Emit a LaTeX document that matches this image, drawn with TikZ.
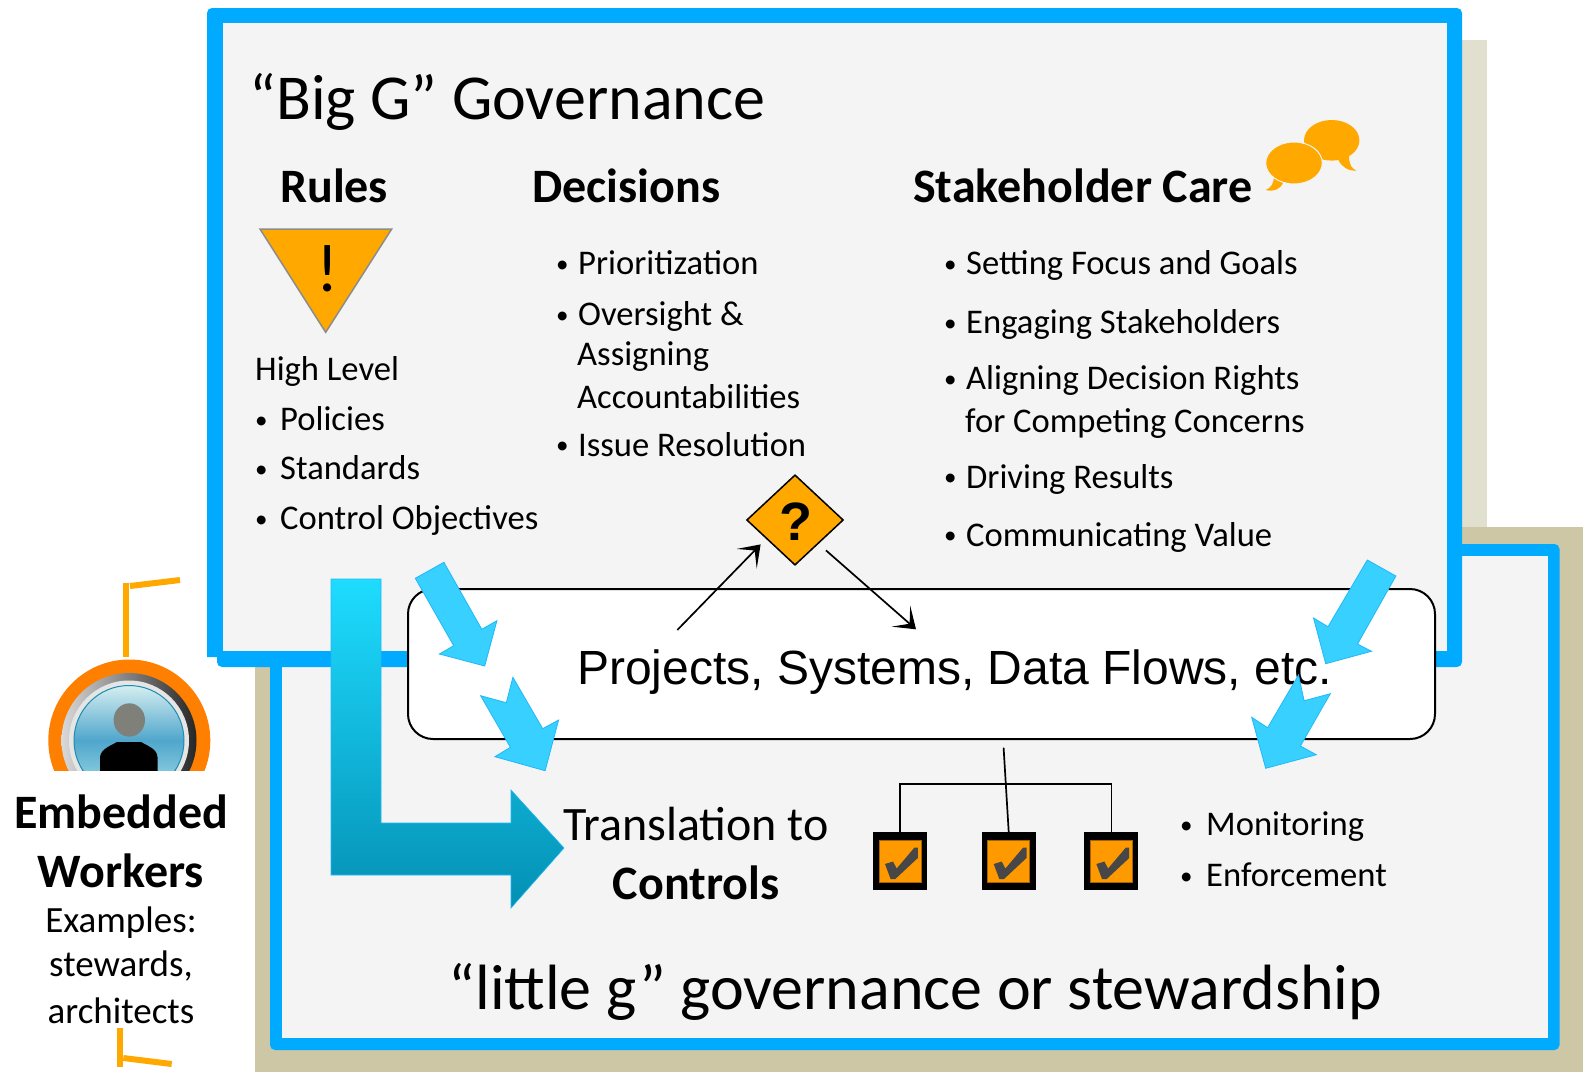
\documentclass[tikz,border=0pt]{standalone}
\usepackage{fontspec}
\setmainfont{Carlito}
\newfontfamily\arialf{Liberation Sans}
\usetikzlibrary{arrows.meta,shapes.geometric}
\definecolor{blueedge}{HTML}{00AAFF}
\definecolor{panel}{HTML}{F4F4F4}
\definecolor{beigeA}{HTML}{E1DFCD}
\definecolor{beigeB}{HTML}{CDC7A5}
\definecolor{amber}{HTML}{FFA800}
\definecolor{amberB}{HTML}{FF9900}
\definecolor{flowfill}{HTML}{38D0FF}
\definecolor{flowedge}{HTML}{20B8F8}
\definecolor{Ltop}{HTML}{1EDCFF}
\definecolor{Lbot}{HTML}{0390B4}
\definecolor{ringorange}{HTML}{FF7F00}
\definecolor{glassT}{HTML}{D5EEF0}
\definecolor{glassM}{HTML}{4FA6CC}
\definecolor{glassB}{HTML}{A8DFE8}
\definecolor{glassE}{HTML}{1B8CB0}
\definecolor{headgray}{HTML}{80807A}
\tikzset{
  txt/.style={anchor=base west,inner sep=0pt,text=black,font=\fontsize{34.6}{38}\selectfont},
  dot/.style={anchor=base west,inner sep=0pt,text=black,font=\fontsize{25}{28}\selectfont},
  head/.style={anchor=base west,inner sep=0pt,text=black,font=\fontsize{48}{52}\selectfont\bfseries},
  mid/.style={anchor=base,inner sep=0pt,text=black},
  flow/.style={fill=flowfill,draw=flowedge,line width=0.8pt},
  chkbox/.style={fill=black,draw=none,minimum width=54pt,minimum height=58pt,inner sep=0pt},
  conn/.style={draw=black,line width=1.7pt,-{Stealth[length=20pt,width=28pt,inset=11.5pt]}},
  treeln/.style={draw=black,line width=1.7pt},
  bracket/.style={draw=amber,line width=6pt},
  chkmark/.pic={
    \fill[amberB,draw=black!35!amberB,line width=1pt] (-21,-21) rectangle (21,21);
    \fill[black!72] (-15,2.5)--(-7,0)--(-3.3,7)--(14.5,-14)--(17.8,-14)--(17.8,-3.5)--(-4.7,17.5)--(-9.4,17.5)--cycle;
  }
}
\begin{document}
\begin{tikzpicture}[x=1pt,y=-1pt]
\useasboundingbox (0,0) rectangle (1583,1072);
\fill[white] (0,0) rectangle (1583,1072);
% back plates
\fill[beigeA] (300,40) rectangle (1487,540);
\fill[beigeB] (255,527) rectangle (1583,1072);
% little g box
\fill[blueedge,rounded corners=5pt] (270,544) rectangle (1559.5,1050);
\fill[panel] (282,556) rectangle (1548,1038);
% Big G box
\fill[blueedge,rounded corners=5pt] (207,657) -- (207,8) -- (1462,8) -- (1462,667) -- (217,667) [sharp corners] -- (217,657) -- cycle;
\fill[panel] (223,23) rectangle (1447,651);
% title and columns
\node[anchor=base west,inner sep=0pt,font=\fontsize{64}{68}\selectfont] (title) at (249.5,119) {“Big G” Governance};
\node[head] (hrules) at (280,202) {Rules};
\node[head] (hdec) at (532,202) {Decisions};
\node[head] (hcare) at (913,202) {Stakeholder Care};
% warning triangle
\fill[amber,draw=black!45,line width=1.5pt] (260,229) -- (391.7,229) -- (325.7,332.3) -- cycle;
\node[anchor=base,inner sep=0pt,font=\fontsize{68}{70}\selectfont] (excl) at (328,291.5) {!};
% speech bubbles
\fill[amber] (1349,156) .. controls (1349,165) and (1352,169) .. (1356.7,170.7) .. controls (1348,171) and (1342,167) .. (1338.3,160) -- cycle;
\fill[amber] (1331.7,140.3) ellipse [x radius=27.7,y radius=20.3];
\fill[amber] (1274,176) .. controls (1274,183) and (1271,188) .. (1265.7,190) .. controls (1274,192) and (1281,189) .. (1283.3,182) -- cycle;
\fill[amber,draw=panel,line width=1pt] (1294,163) ellipse [x radius=28.3,y radius=21];
% rules list
\node[txt] (r0) at (255,380) {High Level};
\node[dot] (rb1) at (255,428) {•};\node[txt] (r1) at (280,430) {Policies};
\node[dot] (rb2) at (255,477) {•};\node[txt] (r2) at (280,479) {Standards};
\node[dot] (rb3) at (255,527) {•};\node[txt] (r3) at (280,529) {Control Objectives};
% decisions list
\node[dot] (db1) at (556,272) {•};\node[txt] (d1) at (578,274) {Prioritization};
\node[dot] (db2) at (556,323) {•};\node[txt] (d2) at (578,325) {Oversight \&};
\node[txt] (d2b) at (577,365) {Assigning};
\node[txt] (d2c) at (577,408) {Accountabilities};
\node[dot] (db3) at (556,453) {•};\node[txt] (d3) at (578,456) {Issue Resolution};
% care list
\node[dot] (cb1) at (944,272) {•};\node[txt] (c1) at (966,274) {Setting Focus and Goals};
\node[dot] (cb2) at (944,331) {•};\node[txt] (c2) at (966,333) {Engaging Stakeholders};
\node[dot] (cb3) at (944,387) {•};\node[txt] (c3) at (966,389) {Aligning Decision Rights};
\node[txt] (c3b) at (965,432) {for Competing Concerns};
\node[dot] (cb4) at (944,485) {•};\node[txt] (c4) at (966,488) {Driving Results};
\node[dot] (cb5) at (944,543) {•};\node[txt] (c5) at (966,546) {Communicating Value};
% projects box
\node[draw=black,fill=white,line width=2pt,rounded corners=25pt,minimum width=1027pt,minimum height=150pt,inner sep=0pt] (sys) at (921.5,664) {};
\node[anchor=base west,inner sep=0pt,font=\arialf\fontsize{48}{52}\selectfont] (systxt) at (577,684) {Projects, Systems, Data Flows, etc.};
% decision diamond
\node[diamond,fill=amber,draw=black,line width=1.5pt,inner sep=0pt,minimum width=96.8pt,minimum height=90.4pt,aspect=1.07] (q) at (795,520) {};
\node[anchor=base,inner sep=0pt,font=\arialf\bfseries\fontsize{54}{56}\selectfont] (qm) at (795.5,540) {?};
\coordinate (sysOut) at (677.3,630);
\coordinate (sysIn) at (916,629.3);
\draw[conn] (sysOut) -- ([xshift=-9.8pt,yshift=-1.4pt]q.south west);
\draw[conn] ([xshift=6.4pt,yshift=-7.4pt]q.south east) -- (sysIn);
% flow arrows
\path[flow] (443.9,562.3)--(415.3,578.3)--(453.7,645.7)--(439.4,654)--(484.7,666)--(496.9,620.7)--(481.8,629.3)--cycle;
\path[flow] (512.9,677.3)--(506.3,702.7)--(480.6,695.7)--(510.4,747.3)--(494.9,756.7)--(545.1,770.7)--(558.6,720)--(542.7,728.7)--cycle;
\path[flow] (1367.3,560)--(1395.9,576)--(1357.5,644)--(1371.5,651.3)--(1325.7,663.7)--(1313.5,618)--(1328,626.7)--cycle;
\path[flow] (1298.5,675)--(1304.1,700.7)--(1330.3,693.7)--(1300.4,746)--(1316.3,754.7)--(1265.7,768.3)--(1251.7,717.3)--(1267.6,727.7)--cycle;
% big L arrow
\path[top color=Ltop,bottom color=Lbot,draw=flowedge,line width=0.6pt] (331,579)--(381,579)--(381,823)--(511,823)--(511,790)--(564,848)--(511,908)--(511,875)--(331,875)--cycle;
% translation
\node[mid,font=\fontsize{48}{52}\selectfont] (tr1) at (696,840) {Translation to};
\node[mid,font=\fontsize{48}{52}\selectfont\bfseries] (tr2) at (696,899) {Controls};
% check boxes
\node[chkbox] (chkA) at (900,861) {};
\node[chkbox] (chkB) at (1008.7,861) {};
\node[chkbox] (chkC) at (1111.4,861) {};
\pic at (900,861.5) {chkmark};
\pic at (1008.7,861.5) {chkmark};
\pic at (1111.4,861.5) {chkmark};
\coordinate (treeTop) at (1005,784.3);
\coordinate (treeStart) at (1003.6,747.7);
\draw[treeln] (chkA.north) |- (treeTop) -| (chkC.north);
\draw[treeln] (treeStart) -- (chkB.north);
% monitoring
\node[dot] (mb1) at (1180,833) {•};\node[txt] (m1) at (1206,835) {Monitoring};
\node[dot] (mb2) at (1180,884) {•};\node[txt] (m2) at (1206,886) {Enforcement};
% little g title
\node[anchor=base west,inner sep=0pt,font=\fontsize{64}{68}\selectfont] (ltitle) at (448.5,1009) {“little g” governance or stewardship};
% embedded worker icon
\begin{scope}
\clip (30,640) rectangle (230,770);
\fill[ringorange] (129.3,740.5) circle [radius=81];
\path[left color=black!15,right color=black!85] (129,740.5) circle [radius=67.5];
\fill[black!10] (129,740.5) circle [radius=60];
\path[top color=glassT,bottom color=glassB,middle color=glassM,draw=glassE,line width=1pt] (129,740.5) circle [radius=55];
\fill[headgray] (129.3,720) ellipse [x radius=15.7,y radius=16.7];
\fill[black] (100,775) -- (100,757) .. controls (101,749) and (110,746) .. (117,742) -- (141,742) .. controls (148,746) and (157,749) .. (157.5,757) -- (157.5,775) -- cycle;
\end{scope}
\node[mid,font=\fontsize{48}{52}\selectfont\bfseries] (emb1) at (121,828) {Embedded};
\node[mid,font=\fontsize{48}{52}\selectfont\bfseries] (emb2) at (121,887) {Workers};
\node[mid,font=\fontsize{37}{40}\selectfont] (emb3) at (121,932) {Examples:};
\node[mid,font=\fontsize{37}{40}\selectfont] (emb4) at (121,976) {stewards,};
\node[mid,font=\fontsize{37}{40}\selectfont] (emb5) at (121,1023) {architects};
% brackets
\draw[bracket] (125.7,583.3) -- (125.7,656.7);
\draw[bracket] (130,586) -- (180,580);
\draw[bracket] (120,1028) -- (120,1066.7);
\draw[bracket] (123.3,1058) -- (171.7,1064);
\end{tikzpicture}
\end{document}
